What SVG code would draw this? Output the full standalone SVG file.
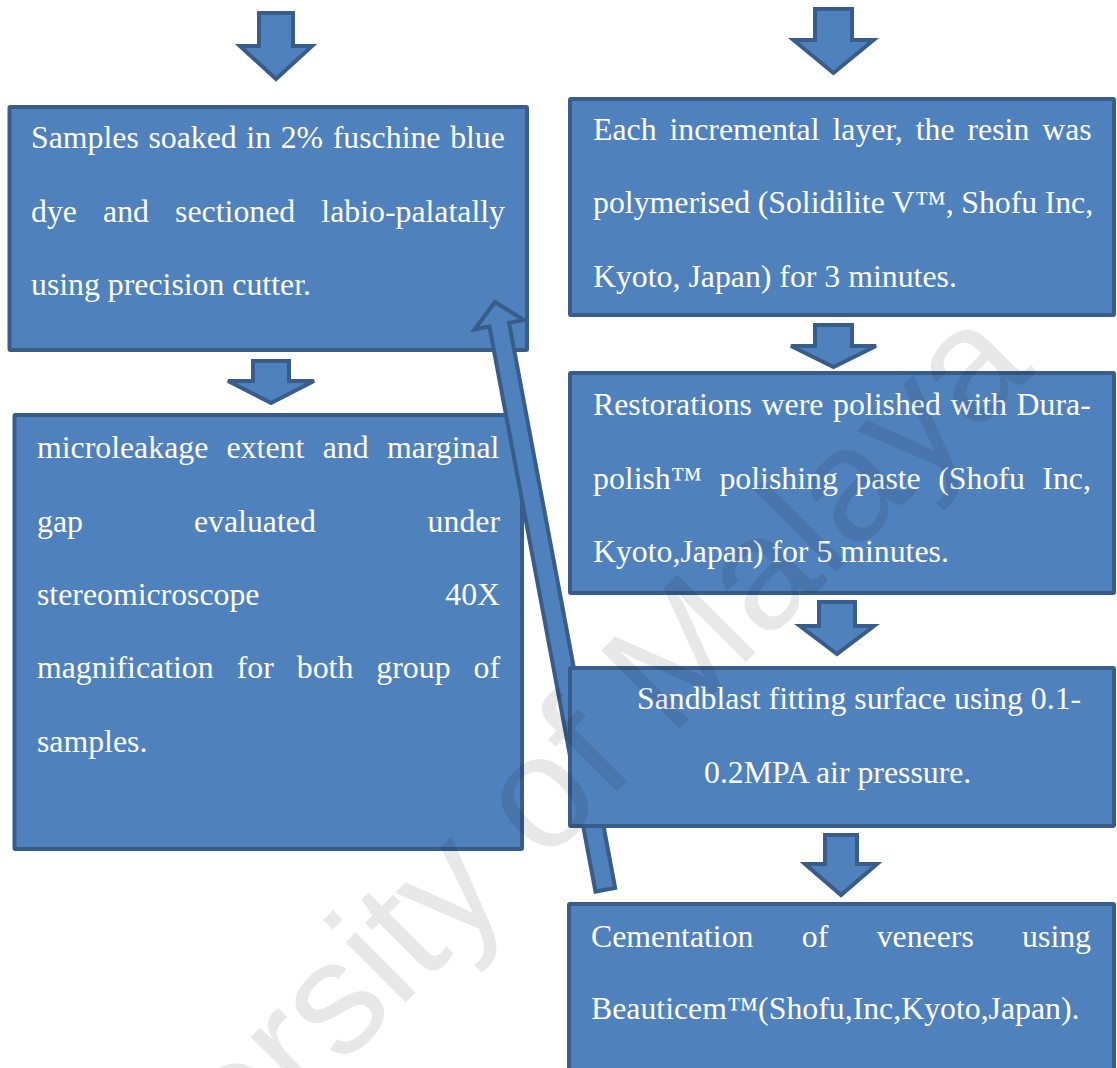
<svg xmlns="http://www.w3.org/2000/svg" width="1117" height="1068" viewBox="0 0 1117 1068">
<style>
.box{fill:#4F81BD;stroke:#385D8A;stroke-width:4}
.arr{fill:#4F81BD;stroke:#385D8A;stroke-width:4;stroke-linejoin:miter}
.t{font-family:"Liberation Serif","Times New Roman",serif;font-size:31.8px;fill:#FFFFFF}
.wm{font-family:"Liberation Sans",Arial,sans-serif;font-size:161px;fill:#000000;fill-opacity:0.09}
</style>
<rect width="1117" height="1068" fill="#FFFFFF"/>
<g id="box1">
<rect class="box" x="9.5" y="107" width="517.5" height="243" rx="1"/>
<text class="t" x="31" y="148" style="word-spacing:1.7px">Samples soaked in 2% fuschine blue</text>
<text class="t" x="31" y="222" style="word-spacing:18.2px">dye and sectioned labio-palatally</text>
<text class="t" x="31" y="295">using precision cutter.</text>
</g>
<g id="box2">
<rect class="box" x="14.5" y="415" width="507.5" height="434" rx="1"/>
<text class="t" x="37" y="458" style="word-spacing:10.4px">microleakage extent and marginal</text>
<text class="t" y="532"><tspan x="37">gap</tspan><tspan x="194">evaluated</tspan><tspan x="500" text-anchor="end">under</tspan></text>
<text class="t" y="605"><tspan x="37">stereomicroscope</tspan><tspan x="500" text-anchor="end">40X</tspan></text>
<text class="t" x="37" y="678" style="word-spacing:15.1px">magnification for both group of</text>
<text class="t" x="37" y="752">samples.</text>
</g>
<g id="connectors">
<path class="arr" d="M259,13 H293 V46 H312 L276,79 L240,46 H259 Z"/>
<path class="arr" d="M253,361 H289 V381 H314 L271,403 L228,381 H253 Z"/>
<path class="arr" d="M815,9 H852 V40 H873.5 L833.5,73 L793.5,40 H815 Z"/>
<path class="arr" d="M815,325 H852 V346 H876 L833.5,367 L791,346 H815 Z"/>
<path class="arr" d="M819,602 H855 V626 H874 L837,654 L800,626 H819 Z"/>
<path class="arr" d="M825,835 H857 V864 H877 L841,895 L805,864 H825 Z"/>
<path class="arr" transform="translate(495,302) rotate(-10.63)" d="M0,0 L25,23 H10 V598 H-10 V23 H-25 Z"/>
</g>
<g id="box3">
<rect class="box" x="570" y="99" width="544" height="216" rx="1"/>
<text class="t" x="593" y="140" style="word-spacing:5px">Each incremental layer, the resin was</text>
<text class="t" x="593" y="213" style="word-spacing:-0.5px">polymerised (Solidilite V™, Shofu Inc,</text>
<text class="t" x="593" y="287">Kyoto, Japan) for 3 minutes.</text>
</g>
<g id="box4">
<rect class="box" x="570" y="373" width="544" height="220" rx="1"/>
<text class="t" x="593" y="415" style="word-spacing:1.7px">Restorations were polished with Dura-</text>
<text class="t" x="593" y="489" style="word-spacing:9.6px">polish™ polishing paste (Shofu Inc,</text>
<text class="t" x="593" y="562">Kyoto,Japan) for 5 minutes.</text>
</g>
<g id="box5">
<rect class="box" x="570" y="668" width="544" height="158" rx="1"/>
<text class="t" x="637" y="709">Sandblast fitting surface using 0.1-</text>
<text class="t" x="704" y="783">0.2MPA air pressure.</text>
</g>
<g id="box6">
<rect class="box" x="569" y="904" width="545" height="172" rx="1"/>
<text class="t" x="591" y="947" style="word-spacing:40.4px">Cementation of veneers using</text>
<text class="t" x="591" y="1019">Beauticem™(Shofu,Inc,Kyoto,Japan).</text>
</g>
<text class="wm" transform="translate(12,1396) rotate(-45)">University of Malaya</text>
</svg>
